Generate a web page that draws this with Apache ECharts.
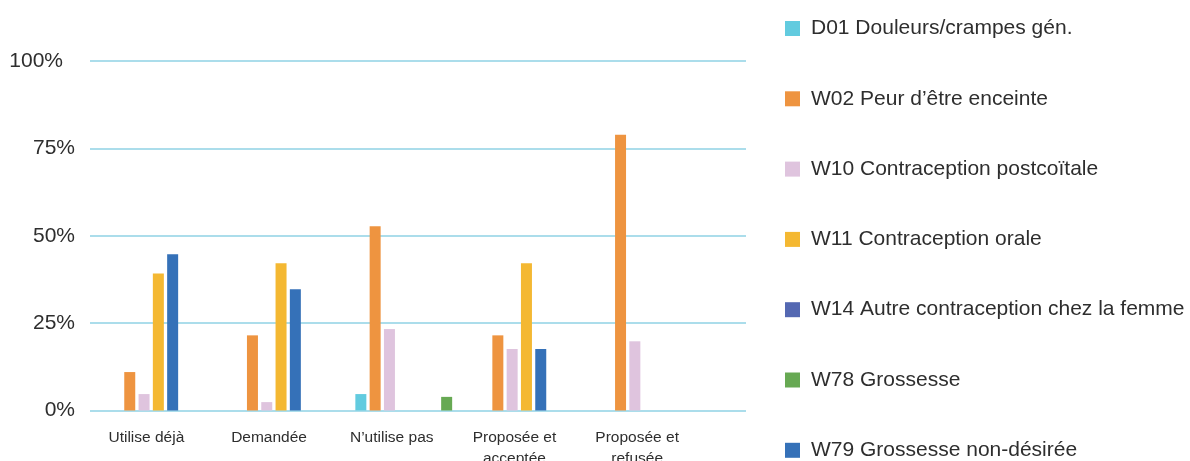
<!DOCTYPE html>
<html>
<head>
<meta charset="utf-8">
<script src="https://cdn.jsdelivr.net/npm/echarts@6/dist/echarts.min.js"></script>
<style>
  html, body { margin: 0; padding: 0; background: #ffffff; }
  #chart { width: 1190px; height: 461px; }
</style>
</head>
<body>
<div id="chart"></div>
<script>
// Categories (x axis)
const categories = ['Utilise déjà', 'Demandée', 'N’utilise pas', 'Proposée et\nacceptée', 'Proposée et\nrefusée'];

// Percentage ticks (y axis)
const yTicks = [0, 25, 50, 75, 100];

// Series values in %, one entry per category (null = no bar)
const d01 = [null, null, 4.7, null, null];
const w02 = [11.0, 21.5, 52.7, 21.5, 78.9];
const w10 = [4.7, 2.4, 23.3, 17.6, 19.8];
const w11 = [39.2, 42.1, null, 42.1, null];
const w14 = [null, null, null, null, null];
const w78 = [null, null, 3.9, null, null];
const w79 = [44.7, 34.7, null, 17.6, null];

// Series names
const names = {
  d01: 'D01 Douleurs/crampes gén.',
  w02: 'W02 Peur d’être enceinte',
  w10: 'W10 Contraception postcoïtale',
  w11: 'W11 Contraception orale',
  w14: 'W14 Autre contraception chez la femme',
  w78: 'W78 Grossesse',
  w79: 'W79 Grossesse non-désirée'
};

const colors = {
  d01: '#62CBDF',
  w02: '#EE9440',
  w10: '#DFC4DE',
  w11: '#F4B832',
  w14: '#5468B2',
  w78: '#67A953',
  w79: '#3571B8'
};

const FONT = '"Liberation Sans", Arial, Helvetica, sans-serif';
const TEXT = '#2e2e2e';

// Bar order within each group (slot order)
const barOrder = [
  ['d01', d01], ['w02', w02], ['w10', w10], ['w11', w11],
  ['w79', w79], ['w14', w14], ['w78', w78]
];

const series = barOrder.map(([key, data]) => ({
  name: names[key],
  type: 'bar',
  xAxisIndex: 1,
  yAxisIndex: 1,
  data: data,
  barWidth: 11,
  barGap: '30%',
  itemStyle: { color: colors[key] },
  emphasis: { disabled: true }
}));

const chart = echarts.init(document.getElementById('chart'), null, { renderer: 'canvas' });

chart.setOption({
  backgroundColor: '#ffffff',
  animation: false,
  textStyle: { fontFamily: FONT },
  grid: [
    // frame with percentage grid lines
    { left: 90, width: 656, top: 61, height: 349.5, containLabel: false, outerBoundsMode: 'none' },
    // bar area
    { left: 97, width: 613.5, top: 61, height: 349.5, containLabel: false, outerBoundsMode: 'none' }
  ],
  legend: {
    orient: 'vertical',
    left: 785,
    top: 18,
    height: 443,
    padding: 0,
    itemWidth: 15,
    itemHeight: 15,
    itemGap: 49.3,
    icon: 'rect',
    selectedMode: false,
    data: ['d01', 'w02', 'w10', 'w11', 'w14', 'w78', 'w79'].map(k => names[k]),
    textStyle: {
      fontFamily: FONT,
      fontSize: 21,
      color: TEXT,
      lineHeight: 20,
      padding: [0, 0, 0, 6]
    }
  },
  xAxis: [
    { gridIndex: 0, type: 'value', min: 0, max: 1, show: false },
    {
      gridIndex: 1,
      type: 'category',
      data: categories,
      axisLine: { show: false },
      axisTick: { show: false },
      splitLine: { show: false },
      axisLabel: {
        interval: 0,
        margin: 17,
        fontFamily: FONT,
        fontSize: 15.5,
        lineHeight: 21,
        color: TEXT,
        padding: [0, 24, 0, 0]
      }
    }
  ],
  yAxis: [
    {
      gridIndex: 0,
      type: 'value',
      min: yTicks[0],
      max: yTicks[yTicks.length - 1],
      interval: yTicks[1] - yTicks[0],
      axisLine: { show: false },
      axisTick: { show: false },
      splitLine: { show: true, lineStyle: { color: '#ABDDEB', width: 2 } },
      axisLabel: {
        margin: 15,
        fontFamily: FONT,
        fontSize: 21,
        color: TEXT,
        formatter: v => v === 100 ? '{top|' + v + '%}' : v + '%',
        rich: {
          top: { fontFamily: FONT, fontSize: 21, color: TEXT, padding: [0, 12, 0, 0] }
        }
      }
    },
    { gridIndex: 1, type: 'value', min: 0, max: 100, show: false }
  ],
  series: series
});
</script>
</body>
</html>
